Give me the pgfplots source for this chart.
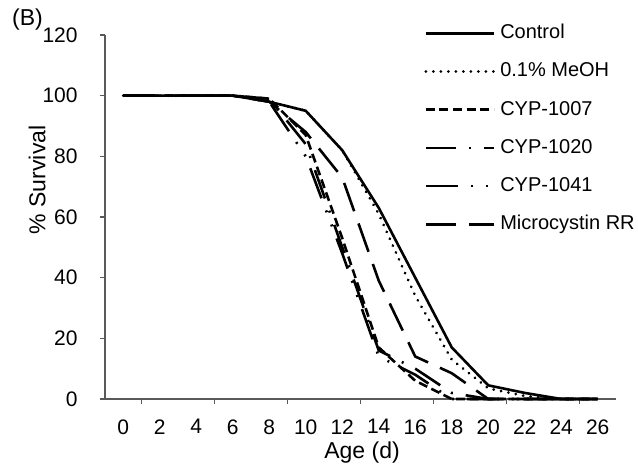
\documentclass[border=0pt]{standalone}
\usepackage{fontspec}
\setmainfont{Liberation Sans}
\usepackage{pgfplots}
\pgfplotsset{compat=1.18}
\begin{document}
\fontsize{10.5}{12.6}\selectfont
\begin{tikzpicture}
\useasboundingbox (0,0) rectangle (319pt,237.5pt);
\node[font=\fontsize{11.5}{13.8}\selectfont] at (13.75pt,227.75pt) {(B)};
\begin{axis}[
  at={(52.5pt,38pt)}, anchor=south west,
  scale only axis, width=255.5pt, height=182pt,
  xmin=-1, xmax=27, ymin=0, ymax=120,
  axis x line*=bottom, axis y line*=left,
  axis line style={draw=black!65, line width=0.8pt, -},
  every tick/.style={draw=black!65, line width=0.8pt},
  tick align=outside, major tick length=2.5pt,
  xtick={0,2,...,26}, major x tick style={draw=none},
  extra x ticks={1,5,9,13,17,21,25}, extra x tick labels={},
  extra x tick style={major x tick style={draw=black!65, line width=0.8pt}},
  ytick={0,20,...,120},
  /pgf/number format/assume math mode=true,
  ticklabel style={font=\fontsize{10.5}{12.6}\selectfont},
  xticklabel style={yshift=-4pt},
  yticklabel style={xshift=-7.5pt},
  xlabel={Age (d)}, ylabel={\% Survival},
  label style={font=\fontsize{11.5}{13.8}\selectfont},
  xlabel style={at={(axis description cs:0.503,-0.148)}, anchor=center},
  ylabel style={at={(axis description cs:-0.133,0.602)}, anchor=center},
  legend cell align=left,
  legend image code/.code={\draw[#1] (0pt,0pt) -- (34pt,0pt);},
  legend style={draw=none, fill=none, at={(rel axis cs:0.624,1.033)}, anchor=north west,
    inner sep=0pt, row sep=9.5pt, column sep=2pt,
    nodes={inner sep=0.5pt, anchor=west, font=\fontsize{10}{12}\selectfont}},
  clip=false,
]
\addplot[black, line width=1.3pt] coordinates {(0,100)(2,100)(4,100)(6,100)(8,98)(10,95)(12,82)(14,63)(16,40)(18,17)(20,4.5)(22,2)(24,0)(26,0)};
\addlegendentry{Control}
\addplot[black, line width=1.5pt, line cap=round, dash pattern=on 0.01pt off 3.75pt] coordinates {(0,100)(2,100)(4,100)(6,100)(8,98)(10,95)(12,82)(14,61)(16,34)(18,13)(20,3.5)(22,1)(24,0)(26,0)};
\addlegendentry{0.1\% MeOH}
\addplot[black, line width=1.3pt, dash pattern=on 4.5pt off 2.3pt] coordinates {(0,100)(2,100)(4,100)(6,100)(8,99)(10,87)(12,53)(14,17)(16,6)(18,0)(20,0)(22,0)(24,0)(26,0)};
\addlegendentry{CYP-1007}
\addplot[black, line width=1.3pt, dash pattern=on 15pt off 6.5pt on 1pt off 6.5pt] coordinates {(0,100)(2,100)(4,100)(6,100)(8,99)(10,84)(12,50)(14,16)(16,10)(18,2)(20,0)(22,0)(24,0)(26,0)};
\addlegendentry{CYP-1020}
\addplot[black, line width=1.3pt, dash pattern=on 16pt off 6.5pt on 1pt off 6.5pt on 1pt off 6.5pt] coordinates {(0,100)(2,100)(4,100)(6,100)(8,98)(10,80)(12,48)(14,14)(16,8)(18,0)(20,0)(22,0)(24,0)(26,0)};
\addlegendentry{CYP-1041}
\addplot[black, line width=1.3pt, dash pattern=on 15pt off 6.5pt] coordinates {(0,100)(2,100)(4,100)(6,100)(8,98)(10,88)(12,73)(14,39)(16,14)(18,8.5)(20,0)(22,0)(24,0)(26,0)};
\addlegendentry{Microcystin RR}
\end{axis}
\end{tikzpicture}
\end{document}
